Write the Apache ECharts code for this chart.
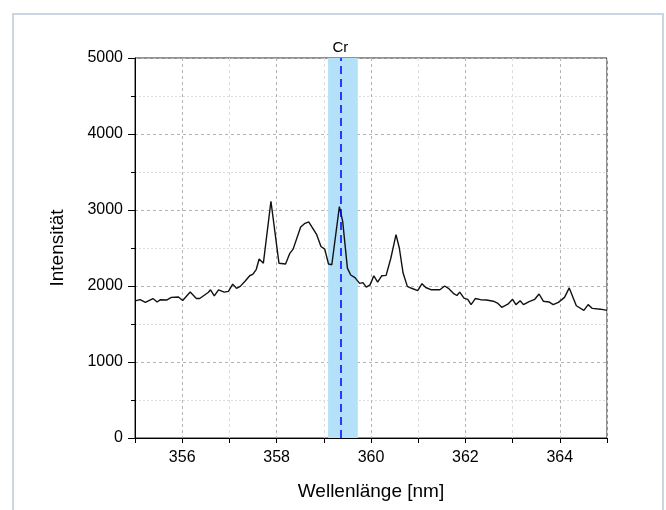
<!DOCTYPE html>
<html lang="de">
<head>
  <meta charset="UTF-8">
  <title>Cr Spektrum</title>
  <script src="https://cdn.jsdelivr.net/npm/echarts@6/dist/echarts.min.js"></script>
  <style>
    html, body { margin: 0; padding: 0; background: #fff; }
    #main { width: 666px; height: 510px; }
  </style>
</head>
<body>
<div id="main"></div>
<script>
  // Wellenlänge [nm]
  var wavelength = [
    355.0, 355.11, 355.22, 355.38, 355.47, 355.54, 355.67, 355.77, 355.92, 356.01,
    356.17, 356.3, 356.37, 356.55, 356.6, 356.68, 356.77, 356.89, 356.98, 357.07,
    357.15, 357.23, 357.34, 357.43, 357.5, 357.57, 357.63, 357.72, 357.88, 358.05,
    358.19, 358.28, 358.35, 358.51, 358.59, 358.68, 358.85, 358.94, 359.02, 359.1,
    359.17, 359.33, 359.4, 359.5, 359.57, 359.66, 359.76, 359.83, 359.9, 359.98,
    360.06, 360.14, 360.23, 360.32, 360.42, 360.53, 360.6, 360.68, 360.77, 360.86,
    360.99, 361.08, 361.16, 361.28, 361.46, 361.56, 361.64, 361.76, 361.82, 361.88,
    361.97, 362.05, 362.12, 362.21, 362.32, 362.45, 362.59, 362.68, 362.77, 362.9,
    363.0, 363.07, 363.16, 363.23, 363.35, 363.47, 363.56, 363.65, 363.77, 363.86,
    363.97, 364.1, 364.2, 364.35, 364.51, 364.6, 364.69, 364.86, 365.0
  ];
  // Intensität
  var intensity = [
    1805, 1820, 1785, 1835, 1790, 1820, 1815, 1850, 1855, 1810,
    1920, 1835, 1835, 1915, 1950, 1870, 1950, 1920, 1930, 2025,
    1970, 1995, 2070, 2135, 2155, 2220, 2355, 2300, 3115, 2300,
    2290, 2430, 2485, 2775, 2820, 2845, 2675, 2520, 2485, 2290,
    2280, 3045, 2850, 2235, 2145, 2110, 2035, 2045, 1985, 2015,
    2135, 2050, 2135, 2140, 2365, 2675, 2500, 2170, 1995, 1970,
    1940, 2030, 1980, 1950, 1950, 2000, 1970, 1895, 1875, 1920,
    1840, 1825, 1755, 1835, 1820, 1815, 1800, 1775, 1720, 1760,
    1825, 1755, 1805, 1755, 1795, 1825, 1895, 1800, 1790, 1755,
    1785, 1850, 1975, 1740, 1680, 1755, 1705, 1695, 1680
  ];
  // Cr-Linie und markierter Bereich
  var crLine = 359.35;
  var crBand = [359.09, 359.72];

  var points = [];
  for (var i = 0; i < wavelength.length; i++) {
    points.push([wavelength[i], intensity[i]]);
  }

  var myChart = echarts.init(document.getElementById('main'));
  var font = 'Liberation Sans, Arial, sans-serif';
  var option = {
    animation: false,
    graphic: [{
      type: 'rect',
      shape: { x: 13, y: 14, width: 650, height: 520 },
      style: { fill: 'none', stroke: '#c9d6e3', lineWidth: 2 }
    }],
    grid: {
      left: 135, right: 59, top: 58, bottom: 72,
      show: true, borderColor: '#222', borderWidth: 1
    },
    xAxis: {
      type: 'value',
      min: 355, max: 365, interval: 1,
      name: 'Wellenlänge [nm]',
      nameLocation: 'middle',
      nameGap: 44,
      nameTextStyle: { fontFamily: font, fontSize: 19, color: '#000' },
      axisLine: { onZero: false, lineStyle: { color: '#000' } },
      axisTick: { show: true, length: 5, lineStyle: { color: '#000' } },
      axisLabel: {
        fontFamily: font, fontSize: 16, color: '#000', margin: 12,
        formatter: function (v) { return (Math.round(v) % 2 === 0) ? String(Math.round(v)) : ''; }
      },
      splitLine: { show: true, lineStyle: { color: ['#dcdcdc', '#b4b4b4'], type: [3, 3] } }
    },
    yAxis: {
      type: 'value',
      min: 0, max: 5000, interval: 1000,
      name: 'Intensität',
      nameLocation: 'middle',
      nameGap: 68,
      nameTextStyle: { fontFamily: font, fontSize: 19, color: '#000' },
      axisLine: { show: true, lineStyle: { color: '#000' } },
      axisTick: { show: true, length: 7, lineStyle: { color: '#000' } },
      minorTick: { show: true, splitNumber: 2, length: 4, lineStyle: { color: '#000' } },
      axisLabel: {
        fontFamily: font, fontSize: 16, color: '#000', margin: 12,
        formatter: function (v) { return String(v); }
      },
      splitLine: { show: true, lineStyle: { color: '#b4b4b4', type: [3, 3] } },
      minorSplitLine: { show: true, lineStyle: { color: '#dcdcdc', type: [2, 2] } }
    },
    series: [{
      type: 'line',
      data: points,
      symbol: 'none',
      lineStyle: { color: '#111', width: 1.4 },
      markArea: {
        silent: true,
        itemStyle: { color: '#b3e1fa' },
        data: [[{ xAxis: crBand[0] }, { xAxis: crBand[1] }]]
      },
      markLine: {
        silent: true,
        symbol: 'none',
        lineStyle: { color: '#0000ff', type: [8, 5], width: 1.5 },
        label: {
          show: true, position: 'end', formatter: 'Cr',
          fontFamily: font, fontSize: 15, color: '#000', distance: 3
        },
        data: [{ xAxis: crLine }]
      },
      z: 3
    }]
  };
  myChart.setOption(option);
</script>
</body>
</html>
